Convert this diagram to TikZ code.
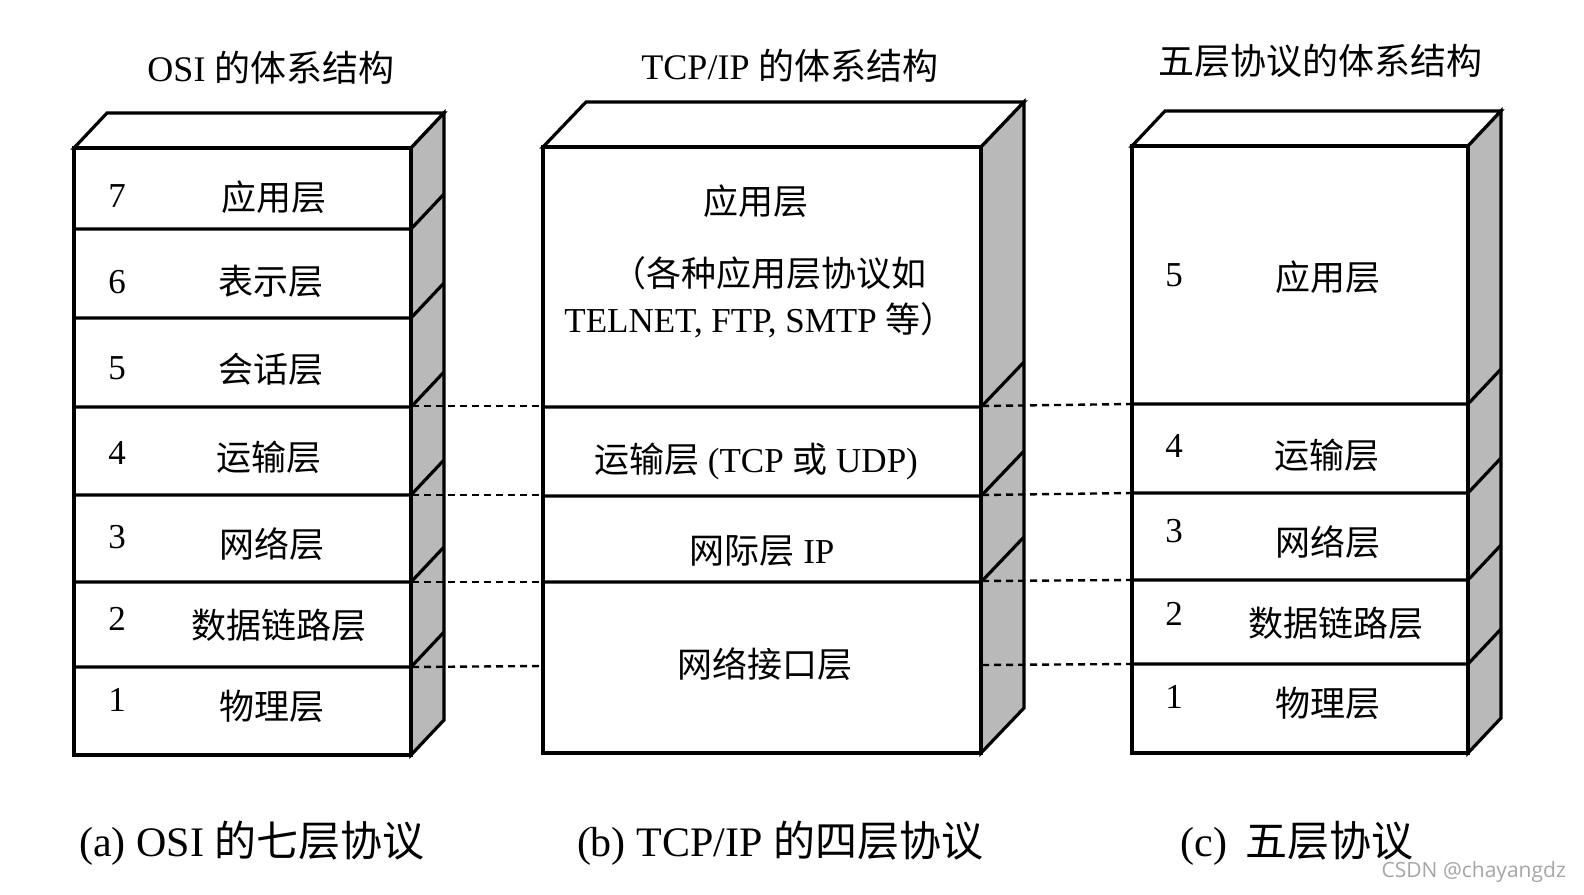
\documentclass[tikz,border=0pt]{standalone}
\usepackage{fontspec}
\setmainfont{Liberation Serif}
\newfontfamily\cjk{Noto Sans CJK SC}
\newfontfamily\wmfont{Open Sans}
\begin{document}
\begin{tikzpicture}[x=1pt,y=-1pt,
  edge/.style={line width=3.2pt, line join=miter},
  sideface/.style={fill=gray!55},
  lbl/.style={font=\fontsize{35}{40}\selectfont, inner sep=0pt},
  ttl/.style={font=\fontsize{36}{40}\selectfont, inner sep=0pt},
  captxt/.style={font=\fontsize{42}{46}\selectfont, inner sep=0pt},
  dashline/.style={line width=2.4pt, dash pattern=on 7pt off 5pt}]
\useasboundingbox (0,0) rectangle (1584,894);
\fill[white] (0,0) rectangle (1584,894);

% ---------- Box A (OSI) ----------
\filldraw[edge,fill=white] (74,148) -- ++(33,-35) -- ++(337,0) -- (411,148) -- cycle;
\filldraw[edge,sideface] (411,148) -- ++(33,-35) -- ++(0,607) -- (411,755) -- cycle;
\filldraw[edge,fill=white] (74,148) rectangle (411,755);
\foreach \y in {229,318,407,495,582,667} \draw[edge] (74,\y) -- (411,\y) -- ++(33,-35);

% ---------- Box B (TCP/IP) ----------
\filldraw[edge,fill=white] (543,147) -- ++(43,-45) -- ++(438,0) -- (981,147) -- cycle;
\filldraw[edge,sideface] (981,147) -- ++(43,-45) -- ++(0,606) -- (981,753) -- cycle;
\filldraw[edge,fill=white] (543,147) rectangle (981,753);
\foreach \y in {407,496,582} \draw[edge] (543,\y) -- (981,\y) -- ++(43,-45);

% ---------- Box C (five layers) ----------
\filldraw[edge,fill=white] (1132,146) -- ++(33,-35) -- ++(336,0) -- (1468,146) -- cycle;
\filldraw[edge,sideface] (1468,146) -- ++(33,-35) -- ++(0,607) -- (1468,753) -- cycle;
\filldraw[edge,fill=white] (1132,146) rectangle (1468,753);
\foreach \y in {404,493,580,664} \draw[edge] (1132,\y) -- (1468,\y) -- ++(33,-35);

% ---------- dashed connectors ----------
\coordinate (a1) at (412,406); \coordinate (b1) at (543,406);
\coordinate (a2) at (412,495); \coordinate (b2) at (543,495);
\coordinate (a3) at (412,582); \coordinate (b3) at (543,582);
\coordinate (a4) at (412,667); \coordinate (b4) at (543,666);
\coordinate (p1) at (982,406); \coordinate (q1) at (1132,404);
\coordinate (p2) at (982,495); \coordinate (q2) at (1132,493);
\coordinate (p3) at (982,581); \coordinate (q3) at (1132,580);
\coordinate (p4) at (982,665); \coordinate (q4) at (1132,664);
\foreach \i in {1,2,3,4} {
  \draw[dashline] (a\i) -- (b\i);
  \draw[dashline] (p\i) -- (q\i);
}

% ---------- titles ----------
\node[ttl] (t1) at (271,68) {OSI {\cjk 的体系结构}};
\node[ttl] (t2) at (790,66) {TCP/IP {\cjk 的体系结构}};
\node[ttl] (t3) at (1320,61) {{\cjk 五层协议的体系结构}};

% ---------- A labels ----------
\node[lbl] (an7) at (117,196) {7};
\node[lbl] (an6) at (117,282) {6};
\node[lbl] (an5) at (117,368) {5};
\node[lbl] (an4) at (117,453) {4};
\node[lbl] (an3) at (117,537) {3};
\node[lbl] (an2) at (117,619) {2};
\node[lbl] (an1) at (117,700) {1};
\node[lbl] (al7) at (274,197) {\cjk 应用层};
\node[lbl] (al6) at (271,281) {\cjk 表示层};
\node[lbl] (al5) at (271,369) {\cjk 会话层};
\node[lbl] (al4) at (269,457) {\cjk 运输层};
\node[lbl] (al3) at (272,544) {\cjk 网络层};
\node[lbl] (al2) at (279,625) {\cjk 数据链路层};
\node[lbl] (al1) at (272,706) {\cjk 物理层};

% ---------- B labels ----------
\node[lbl] (bl4) at (756,201) {\cjk 应用层};
\node[lbl] (bl4a) at (769,273) {\cjk （各种应用层协议如};
\node[lbl] (bl4b) at (760,320) {TELNET, FTP, SMTP {\cjk 等）}};
\node[lbl] (bl3) at (756,461) {{\cjk 运输层} (TCP {\cjk 或} UDP)};
\node[lbl] (bl2) at (762,551) {{\cjk 网际层} IP};
\node[lbl] (bl1) at (765,664) {\cjk 网络接口层};

% ---------- C labels ----------
\node[lbl] (cn5) at (1174,275) {5};
\node[lbl] (cn4) at (1174,446) {4};
\node[lbl] (cn3) at (1174,531) {3};
\node[lbl] (cn2) at (1174,614) {2};
\node[lbl] (cn1) at (1174,697) {1};
\node[lbl] (cl5) at (1328,277) {\cjk 应用层};
\node[lbl] (cl4) at (1327,455) {\cjk 运输层};
\node[lbl] (cl3) at (1328,542) {\cjk 网络层};
\node[lbl] (cl2) at (1336,623) {\cjk 数据链路层};
\node[lbl] (cl1) at (1328,703) {\cjk 物理层};

% ---------- captions ----------
\node[captxt] (c1) at (252,843) {(a) OSI {\cjk 的七层协议}};
\node[captxt] (c2) at (780,843) {(b) TCP/IP {\cjk 的四层协议}};
\node[captxt] (c3) at (1297,843) {(c)\hspace{18pt}{\cjk 五层协议}};

\node[font=\wmfont\fontsize{21}{24}\selectfont, text=gray!70, anchor=east, inner sep=0pt] (wm) at (1566,872) {CSDN @chayangdz};
\end{tikzpicture}
\end{document}
